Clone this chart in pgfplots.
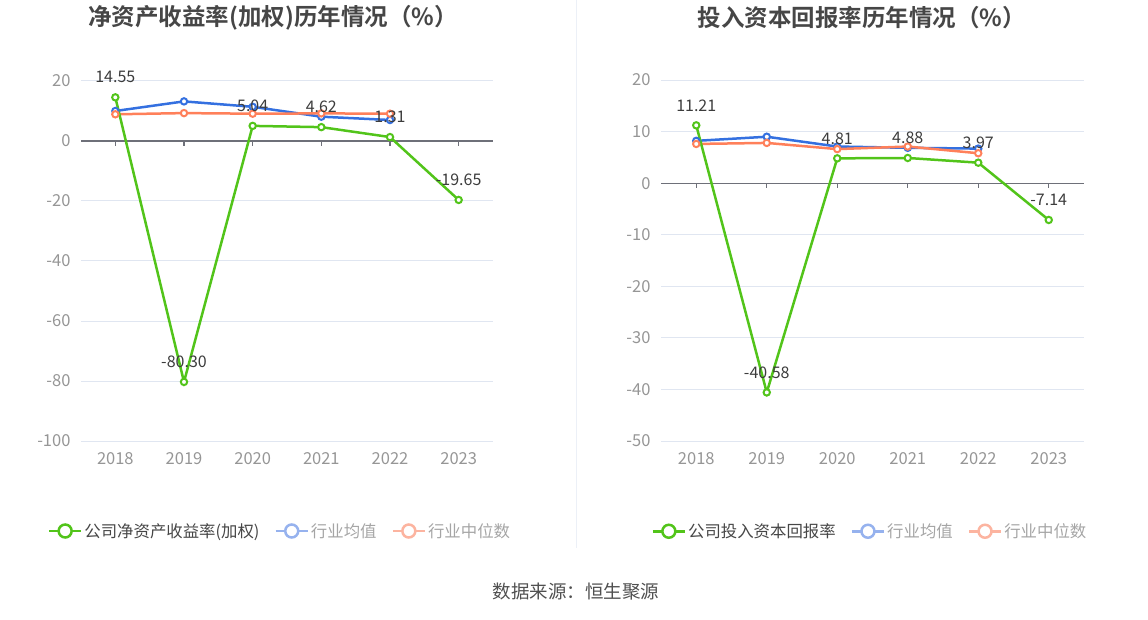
\documentclass[border=0pt]{standalone}
\usepackage{pgfplots}
\pgfplotsset{compat=1.18}
\usepackage{fontspec}
\setmainfont{Noto Sans CJK SC}
\newfontfamily\titlefont{Noto Sans CJK SC Bold}
\definecolor{cgreen}{RGB}{82,196,26}
\definecolor{cblue}{RGB}{52,112,224}
\definecolor{corange}{RGB}{255,128,90}
\definecolor{fblue}{RGB}{150,178,238}
\definecolor{forange}{RGB}{252,180,160}
\definecolor{gridc}{RGB}{224,230,241}
\definecolor{zeroc}{RGB}{110,112,121}
\definecolor{tickc}{RGB}{150,150,150}
\definecolor{labc}{RGB}{60,60,60}
\definecolor{titc}{RGB}{70,70,70}
\definecolor{legc}{RGB}{70,70,70}
\definecolor{flegc}{RGB}{165,165,165}
\pgfplotsset{
  mystyle/.style={
    scale only axis, clip=false,
    axis line style={draw=none},
    major tick length=0pt,
    ymajorgrids, grid style={color=gridc, line width=1pt},
    xmin=-0.5, xmax=5.5,
    xtick={0,...,5}, xticklabels={2018,2019,2020,2021,2022,2023},
    tick label style={font=\fontsize{16.5pt}{19pt}\selectfont, color=tickc},
    /pgf/number format/assume math mode=true,
    xticklabel style={yshift=-8pt},
    yticklabel style={xshift=-7pt},
    legend columns=3,
    legend style={draw=none, fill=none, font=\fontsize{16.4pt}{19pt}\selectfont,
      /tikz/every even column/.append style={column sep=13pt}},
    legend cell align=left,
    legend image code/.code={\draw[mark repeat=2,mark phase=2,##1] plot coordinates {(0pt,0pt) (16pt,0pt) (32pt,0pt)};},
  },
  gline/.style={color=cgreen, line width=2.5pt, mark=*, mark size=3.2pt, mark options={fill=white, line width=2pt}},
  bline/.style={color=cblue, line width=2.5pt, mark=*, mark size=3.2pt, mark options={fill=white, line width=2pt}},
  oline/.style={color=corange, line width=2.5pt, mark=*, mark size=3.2pt, mark options={fill=white, line width=2pt}},
  lg/.style={color=#1, line width=2.5pt, mark=*, mark size=6.5pt, mark options={fill=white, line width=2.5pt}},
  vlabels/.style={nodes near coords, point meta=explicit symbolic,
    every node near coord/.append style={anchor=center, yshift=20pt, color=labc, font=\fontsize{16pt}{19pt}\selectfont}},
}
\begin{document}
\begin{tikzpicture}[x=1pt,y=1pt]
\path[use as bounding box] (0,0) rectangle (1148,619);
\draw[color=gridc!60, line width=1pt] (576,619) -- (576,71);
\node[font=\titlefont\fontsize{23.5pt}{26pt}\selectfont, color=titc] at (273,601) {净资产收益率(加权)历年情况（\%）};
\node[font=\titlefont\fontsize{23.5pt}{26pt}\selectfont, color=titc] at (862,601) {投入资本回报率历年情况（\%）};
\node[font=\fontsize{18.5pt}{21pt}\selectfont, color=labc!90] at (576,27) {数据来源：恒生聚源};

\begin{axis}[mystyle, at={(81pt,178pt)}, anchor=south west, width=412pt, height=360pt,
  ymin=-100, ymax=20, ytick={-100,-80,...,20},
  legend style={at={(0.483,-0.25)}, anchor=center}]
\draw[zeroc, line width=1.2pt] (axis cs:-0.5,0) -- (axis cs:5.5,0);
\pgfplotsinvokeforeach{0,...,5}{\draw[zeroc, line width=1.2pt] (axis cs:#1,0) -- ++(0pt,-5pt);}
\addlegendimage{lg=cgreen}\addlegendentry{\textcolor{legc}{公司净资产收益率(加权)}}
\addlegendimage{lg=fblue}\addlegendentry{\textcolor{flegc}{行业均值}}
\addlegendimage{lg=forange}\addlegendentry{\textcolor{flegc}{行业中位数}}
\addplot[bline, forget plot] coordinates {(0,10.0) (1,13.2) (2,11.4) (3,8.1) (4,7.0)};
\addplot[oline, forget plot] coordinates {(0,8.9) (1,9.3) (2,9.1) (3,9.2) (4,9.1)};
\addplot[gline, vlabels, forget plot] coordinates {(0,14.55) [14.55] (1,-80.30) [-80.30] (2,5.04) [5.04] (3,4.62) [4.62] (4,1.31) [1.31] (5,-19.65) [-19.65]};
\end{axis}

\begin{axis}[mystyle, at={(661pt,178pt)}, anchor=south west, width=423pt, height=361pt,
  ymin=-50, ymax=20, ytick={-50,-40,...,20},
  legend style={at={(0.494,-0.25)}, anchor=center}]
\draw[zeroc, line width=1.2pt] (axis cs:-0.5,0) -- (axis cs:5.5,0);
\pgfplotsinvokeforeach{0,...,5}{\draw[zeroc, line width=1.2pt] (axis cs:#1,0) -- ++(0pt,-5pt);}
\addlegendimage{lg=cgreen}\addlegendentry{\textcolor{legc}{公司投入资本回报率}}
\addlegendimage{lg=fblue}\addlegendentry{\textcolor{flegc}{行业均值}}
\addlegendimage{lg=forange}\addlegendentry{\textcolor{flegc}{行业中位数}}
\addplot[bline, forget plot] coordinates {(0,8.2) (1,9.0) (2,7.1) (3,6.85) (4,6.7)};
\addplot[oline, forget plot] coordinates {(0,7.6) (1,7.8) (2,6.6) (3,7.1) (4,5.8)};
\addplot[gline, vlabels, forget plot] coordinates {(0,11.21) [11.21] (1,-40.58) [-40.58] (2,4.81) [4.81] (3,4.88) [4.88] (4,3.97) [3.97] (5,-7.14) [-7.14]};
\end{axis}
\end{tikzpicture}
\end{document}
